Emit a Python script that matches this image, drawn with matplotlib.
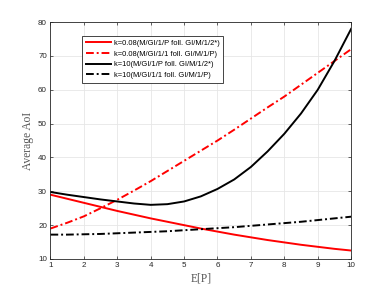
import numpy as np
import matplotlib.pyplot as plt

# E[P] values
ep = [1, 1.5, 2, 2.5, 3, 3.5, 4, 4.5, 5, 5.5, 6, 6.5, 7, 7.5, 8, 8.5, 9, 9.5, 10]

# average AoI
red_solid = [29.0, 27.8, 26.6, 25.4, 24.2, 23.1, 22.0, 21.0, 20.0, 19.0,
             18.1, 17.2, 16.4, 15.6, 14.9, 14.2, 13.6, 13.0, 12.5]
red_dash = [19.0, 20.7, 22.6, 25.0, 27.5, 30.2, 33.0, 36.0, 39.0, 42.0,
            45.0, 48.2, 51.5, 54.8, 58.0, 61.5, 65.0, 68.5, 72.0]
black_solid = [29.8, 29.0, 28.3, 27.6, 27.0, 26.4, 26.0, 26.2, 27.0, 28.5,
               30.7, 33.5, 37.2, 41.8, 47.0, 53.0, 60.0, 68.5, 78.0]
black_dash = [17.2, 17.2, 17.3, 17.4, 17.6, 17.8, 18.0, 18.2, 18.5, 18.8,
              19.1, 19.4, 19.8, 20.2, 20.6, 21.0, 21.5, 22.0, 22.5]

labels = ['k=0.08(M/GI/1/P foll. GI/M/1/2*)',
          'k=0.08(M/GI/1/1 foll. GI/M/1/P)',
          'k=10(M/GI/1/P foll. GI/M/1/2*)',
          'k=10(M/GI/1/1 foll. GI/M/1/P)']

dashdot = (0, (4, 1.5, 1, 1.5))

plt.rcParams['font.family'] = ['Liberation Sans', 'DejaVu Sans']

fig = plt.figure(figsize=(3.88, 2.91), dpi=100)
ax = fig.add_axes([0.130, 0.110, 0.775, 0.814])

ax.plot(ep, red_solid, color='red', lw=1.4, label=labels[0])
ax.plot(ep, red_dash, color='red', lw=1.4, ls=dashdot, label=labels[1])
ax.plot(ep, black_solid, color='black', lw=1.4, label=labels[2])
ax.plot(ep, black_dash, color='black', lw=1.4, ls=dashdot, label=labels[3])

ax.set_xlim(1, 10)
ax.set_ylim(10, 80)
ax.set_xticks(np.arange(1, 11))
ax.set_yticks(np.arange(10, 81, 10))
ax.grid(True, color='#e6e6e6', lw=0.6)
ax.set_axisbelow(True)
ax.tick_params(direction='in', length=2.5, width=0.5, labelsize=5.8,
               colors='#262626', top=True, right=True, pad=2.5)
for s in ax.spines.values():
    s.set_color('#262626')
    s.set_linewidth(0.6)

ax.set_xlabel('E[P]', family='Liberation Serif', fontsize=8.3, color='#555555', labelpad=2.5)
ax.set_ylabel('Average AoI', family='Liberation Serif', fontsize=8.3, color='#555555', labelpad=3)

leg = ax.legend(loc='upper left', bbox_to_anchor=(0.093, 0.957), fontsize=5.4,
                fancybox=False, edgecolor='#262626', framealpha=1,
                handlelength=3.4, borderpad=0.5, labelspacing=0.45,
                handletextpad=0.3)
leg.get_frame().set_linewidth(0.6)

fig.savefig('out.png', dpi=100)
